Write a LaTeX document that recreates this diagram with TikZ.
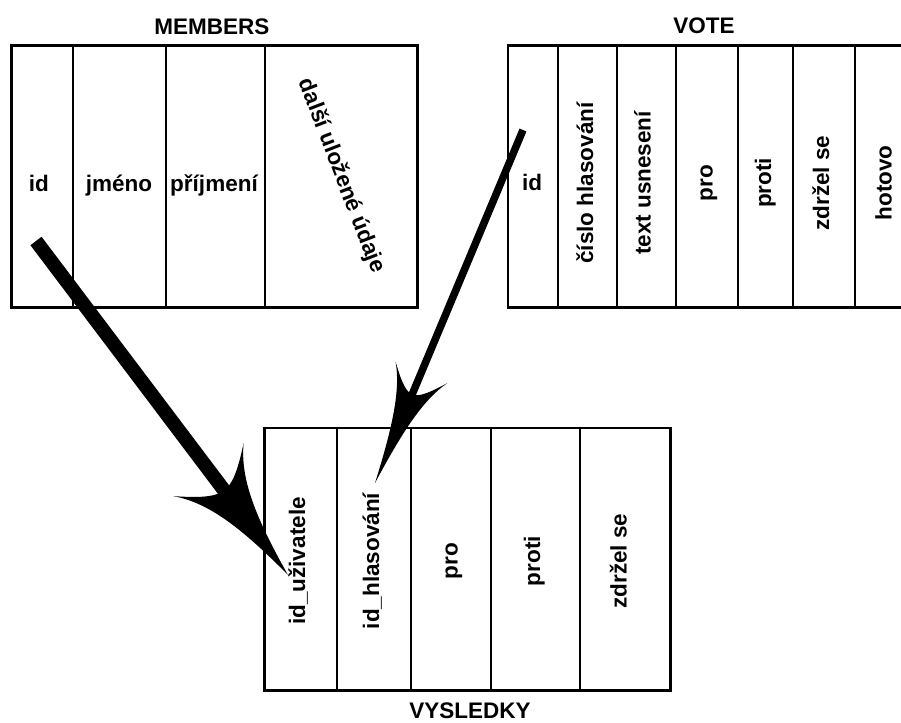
\documentclass[tikz,border=0pt]{standalone}
\usepackage{fontspec}
\setmainfont{Liberation Sans}
\usetikzlibrary{arrows.meta}
\newdimen\swL \newdimen\swW \newdimen\swN
\pgfdeclarearrow{
  name = Swoop,
  parameters = {\the\pgfarrowlength,\the\pgfarrowwidth,\the\pgfarrowinset},
  setup code = {
    \pgfarrowssettipend{0pt}
    \pgfarrowssetbackend{-\pgfarrowlength}
    \pgfarrowssetlineend{-0.6\pgfarrowlength}
    \pgfarrowssavethe\pgfarrowlength
    \pgfarrowssavethe\pgfarrowwidth
    \pgfarrowssavethe\pgfarrowinset
  },
  drawing code = {
    \swL=\pgfarrowlength
    \swW=0.5\pgfarrowwidth
    \swN=\pgfarrowinset
    \advance\swN by -\swL
    \pgfpathmoveto{\pgfqpoint{0pt}{0pt}}
    \pgfpathcurveto{\pgfqpoint{-0.5\swL}{0.2\swW}}{\pgfqpoint{-0.8\swL}{0.45\swW}}{\pgfqpoint{-\swL}{\swW}}
    \pgfpathcurveto{\pgfqpoint{-0.9\swL}{0.65\swW}}{\pgfqpoint{\swN}{0.3\swW}}{\pgfqpoint{\swN}{0pt}}
    \pgfpathcurveto{\pgfqpoint{\swN}{-0.3\swW}}{\pgfqpoint{-0.9\swL}{-0.65\swW}}{\pgfqpoint{-\swL}{-\swW}}
    \pgfpathcurveto{\pgfqpoint{-0.8\swL}{-0.45\swW}}{\pgfqpoint{-0.5\swL}{-0.2\swW}}{\pgfqpoint{0pt}{0pt}}
    \pgfpathclose
    \pgfusepathqfill
  },
  defaults = {length=20pt, width=12pt, inset=4pt}
}
\begin{document}
\begin{tikzpicture}[x=1pt,y=-1pt,
  every node/.style={font=\fontsize{22.5}{27}\selectfont\bfseries, inner sep=0pt},
  tbl/.style={draw, line width=2.6pt, anchor=north west},
  sep/.style={line width=2pt},
  lbl/.style={text height=16pt, text depth=4.7pt},
  vlbl/.style={lbl, rotate=90},
  hlbl/.style={anchor=base},
  title/.style={anchor=base},
  bigarrow/.style={line width=14pt, -{Swoop[length=132pt,width=88pt,inset=26pt]}},
  smallarrow/.style={line width=7.5pt, -{Swoop[length=120pt,width=56pt,inset=24pt]}}
]
\fill[white] (0,0) rectangle (901,722);
\useasboundingbox (0,0) rectangle (901,722);

% MEMBERS
\node[title] (tm) at (212,35) {MEMBERS};
\node[tbl, minimum width=406pt, minimum height=262pt] (members) at (10,44) {};
\draw[sep] (73.3,44) -- (73.3,306);
\draw[sep] (165.7,44) -- (165.7,306);
\draw[sep] (265,44) -- (265,306);
\node[hlbl] (m1) at (38.8,191) {id};
\node[hlbl] (m2) at (119,191) {jméno};
\node[hlbl] (m3) at (214,191) {příjmení};
\node[lbl, rotate=-69] (m4) at (341,176) {další uložené údaje};

% VOTE
\node[title] (tv) at (704,34) {VOTE};
\node[tbl, minimum width=430pt, minimum height=262pt] (vote) at (506.7,44) {};
\foreach \x in {558.3,616.7,675.7,737.7,793.3,855}
  \draw[sep] (\x,44) -- (\x,306);
\node[hlbl] (v1) at (532,190) {id};
\node[vlbl] (v2) at (587.5,183) {číslo hlasování};
\node[vlbl] (v3) at (645,183) {text usnesení};
\node[vlbl] (v4) at (707,183) {pro};
\node[vlbl] (v5) at (765.5,183) {proti};
\node[vlbl] (v6) at (823.5,183) {zdržel se};
\node[vlbl] (v7) at (886,183) {hotovo};

% VYSLEDKY
\node[tbl, minimum width=406pt, minimum height=262.6pt] (vysledky) at (263.3,426.7) {};
\foreach \x in {337.3,410.7,491,580}
  \draw[sep] (\x,426.7) -- (\x,689.3);
\node[vlbl] (r1) at (299.5,561) {id\_uživatele};
\node[vlbl] (r2) at (373.5,561) {id\_hlasování};
\node[vlbl] (r3) at (452,561) {pro};
\node[vlbl] (r4) at (534.5,561) {proti};
\node[vlbl] (r5) at (621,561) {zdržel se};
\node[title] (tr) at (470,718) {VYSLEDKY};

% connectors
\coordinate (a1s) at (36,241);
\coordinate (a1t) at (288,575);
\coordinate (a2s) at (523,130);
\coordinate (a2t) at (375,483);
\draw[bigarrow] (a1s) -- (a1t);
\draw[smallarrow] (a2s) -- (a2t);
\end{tikzpicture}
\end{document}
